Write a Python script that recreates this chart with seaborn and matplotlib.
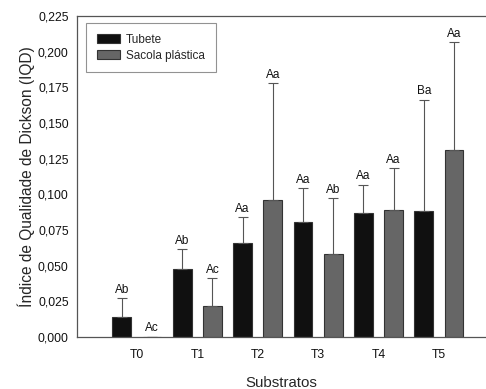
import matplotlib
matplotlib.use("Agg")
import matplotlib.pyplot as plt
import seaborn as sns
import pandas as pd
import numpy as np
from matplotlib.ticker import FuncFormatter

substratos = ["T0", "T1", "T2", "T3", "T4", "T5"]
tubete = [0.0138, 0.0474, 0.0661, 0.0804, 0.0869, 0.0881]
tubete_err = [0.0133, 0.0141, 0.0178, 0.0238, 0.0196, 0.0780]
sacola = [0.0, 0.0217, 0.0958, 0.0582, 0.0890, 0.1309]
sacola_err = [0.0, 0.0194, 0.0820, 0.0390, 0.0292, 0.0757]
tubete_letters = ["Ab", "Ab", "Aa", "Aa", "Aa", "Ba"]
sacola_letters = ["Ac", "Ac", "Aa", "Ab", "Aa", "Aa"]
series = ["Tubete", "Sacola plástica"]

sns.set_style("white")
plt.rcParams['font.family'] = ['Liberation Sans', 'DejaVu Sans']

df = pd.DataFrame({
    "Substratos": substratos * 2,
    "IQD": tubete + sacola,
    "Recipiente": [series[0]] * 6 + [series[1]] * 6,
})

fig = plt.figure(figsize=(4.86, 3.89), dpi=100)
ax = fig.add_axes([0.1584, 0.1337, 0.8416, 0.8252])

sns.barplot(data=df, x="Substratos", y="IQD", hue="Recipiente", order=substratos,
            hue_order=series, palette=["#101010", "#666666"], width=1.0, gap=0.38,
            errorbar=None, edgecolor="#333333", linewidth=0.8, ax=ax)

for cont, vals, errs, letters in zip(ax.containers, [tubete, sacola],
                                     [tubete_err, sacola_err],
                                     [tubete_letters, sacola_letters]):
    xs = [p.get_x() + p.get_width() / 2 for p in cont.patches]
    ax.errorbar(xs, vals, yerr=[np.zeros(len(vals)), errs], fmt="none",
                ecolor="#555555", elinewidth=0.8, capsize=3.3, capthick=0.8, zorder=1)
    for x, v, e, t in zip(xs, vals, errs, letters):
        ax.text(x, v + e + 0.0018, t, ha="center", va="bottom", fontsize=8.5, color="#111111")

ax.set_xlim(-0.993, 5.78)
ax.set_ylim(0, 0.225)
ax.set_yticks(np.arange(0, 0.2251, 0.025))
ax.yaxis.set_major_formatter(FuncFormatter(lambda v, p: f"{v:.3f}".replace(".", ",")))
ax.tick_params(axis="both", labelsize=8.8, colors="#111111", length=4, width=0.8,
               direction="out", color="#555555")
ax.tick_params(axis="x", pad=5)
ax.tick_params(axis="y", pad=2)
ax.set_xlabel("Substratos", fontsize=10.8, labelpad=10.5)
ax.set_ylabel("Índice de Qualidade de Dickson (IQD)", fontsize=11.2, labelpad=2)

for s in ["left", "bottom", "top"]:
    ax.spines[s].set_color("#555555")
    ax.spines[s].set_linewidth(0.9)
ax.spines["right"].set_visible(False)

leg = ax.legend(loc="upper left", bbox_to_anchor=(0.022, 0.978), borderaxespad=0,
                fontsize=8.5, frameon=True, fancybox=False, edgecolor="#777777",
                handlelength=2.0, handleheight=0.75, borderpad=0.9, labelspacing=0.35,
                handletextpad=0.5, title=None)
leg.get_frame().set_linewidth(0.8)

fig.savefig("out.png", dpi=100)
